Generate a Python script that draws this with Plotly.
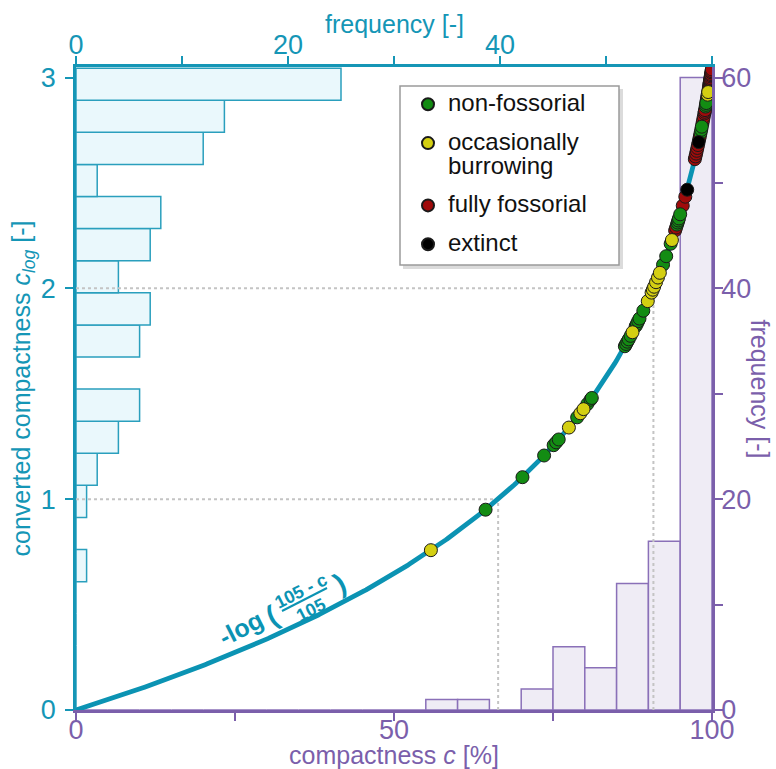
import numpy as np
import plotly.graph_objects as go

# ---------------- data ----------------
# compactness c [%] of the specimens, per ecological category
c_nonfossorial = [64.4, 70.2, 73.6, 75.1, 75.5, 75.9, 78.8, 80.4, 80.9, 81.1,
                  86.3, 86.5, 86.7, 86.9, 87.2, 88.0, 88.2, 88.4, 88.6, 89.2,
                  92.3, 92.8, 93.5, 94.5, 94.6, 94.7, 94.8, 95.0,
                  98.2, 98.3, 98.4, 99.0, 99.05, 99.1]
c_occasional = [55.8, 77.5, 79.3, 79.8, 87.5, 89.9, 90.5, 90.7, 90.9, 91.2, 91.5, 91.8,
                93.7, 99.33, 99.4]
c_fossorial = [94.2, 94.35, 95.4, 95.8, 97.3, 97.4, 97.5, 97.6, 97.7, 97.8, 98.0, 98.1,
               98.5, 98.6, 98.7, 98.8, 98.85, 98.9, 99.15, 99.2, 99.25, 99.3, 99.36,
               99.42, 99.5, 99.55, 99.6, 99.62, 99.65, 99.68, 99.7, 99.73, 99.76, 99.8,
               99.83, 99.86, 99.9, 99.93, 99.97]
c_extinct = [96.1, 97.9]

# histogram of c (bins of 5 %, 0..100)
c_bin_edges = list(range(0, 105, 5))
c_counts = [0, 0, 0, 0, 0, 0, 0, 0, 0, 0, 0, 1, 1, 0, 2, 6, 4, 12, 16, 60]

# histogram of converted compactness c_log (20 bins from 0 to ln(21))
clog_counts = [0, 0, 0, 0, 1, 0, 1, 2, 4, 6, 0, 6, 7, 4, 7, 8, 2, 12, 14, 25]

x_ticks = [0, 25, 50, 75, 100]
x_ticklabels = ["0", "", "50", "", "100"]
y_ticks = [0, 1, 2, 3]
y_ticklabels = ["0", "1", "2", "3"]
freq_ticks = [0, 10, 20, 30, 40, 50, 60]
freq_top_labels = ["0", "", "20", "", "40", "", ""]
freq_right_labels = ["0", "", "20", "", "40", "", "60"]
guide_levels = [1, 2]

# ---------------- helpers ----------------
def clog(c):
    return -np.log((105.0 - np.asarray(c, dtype=float)) / 105.0)

TEAL = "#1596b6"
CURVE = "#0b93b3"
PURPLE = "#7b5fab"
FILL_L = "#eaf8fc"
FILL_B = "#efecf5"
FONT = "Liberation Sans, Arial, sans-serif"
TICK_SIZE = 27
TITLE_SIZE = 25

W, H = 776, 769
ML, MR, MT, MB = 76, 64, 67, 59
PW, PH = W - ML - MR, H - MT - MB


def px(xp):
    return (xp - ML) / PW


def py(yp):
    return (H - MB - yp) / PH


fig = go.Figure()

# left histogram (converted compactness): x = frequency (top), y2 = c_log (left)
clog_max = float(clog(100))
clog_w = clog_max / len(clog_counts)
clog_centers = [clog_w * (i + 0.5) for i in range(len(clog_counts))]
fig.add_trace(go.Bar(x=clog_counts, y=clog_centers, width=clog_w, orientation="h",
                     xaxis="x", yaxis="y2",
                     marker=dict(color=FILL_L, line=dict(color="#2a9fbd", width=1.5)),
                     showlegend=False, hoverinfo="skip"))

# bottom histogram (compactness): x2 = c (bottom), y = frequency (right)
c_centers = [(a + b) / 2 for a, b in zip(c_bin_edges[:-1], c_bin_edges[1:])]
fig.add_trace(go.Bar(x=c_centers, y=c_counts, width=5, xaxis="x2", yaxis="y",
                     marker=dict(color=FILL_B, line=dict(color="#8a70b8", width=1.5)),
                     showlegend=False, hoverinfo="skip"))

# dotted guide lines
for lv in guide_levels:
    cg = 105 * (1 - np.exp(-lv))
    fig.add_trace(go.Scatter(x=[0, cg, cg], y=[lv, lv, 0], mode="lines", xaxis="x2", yaxis="y2",
                             line=dict(color="#c4c4c4", width=2, dash="dot"),
                             showlegend=False, hoverinfo="skip"))

# transformation curve
c_line = np.linspace(0, 100, 400)
fig.add_trace(go.Scatter(x=c_line, y=clog(c_line), mode="lines", xaxis="x2", yaxis="y2",
                         line=dict(color=CURVE, width=4.8), showlegend=False,
                         hoverinfo="skip"))

# specimens (drawing order: fossorial first; legend order via legendrank)
LEG = '<span style="font-size:24px">{}</span>'
groups = [
    # name, values, colour, legend rank
    ("fully fossorial", c_fossorial, "#a00b0b", 3),
    ("non-fossorial", c_nonfossorial, "#138c13", 1),
    ("occasionally<br>burrowing", c_occasional, "#d4cf12", 2),
    ("extinct", c_extinct, "#000000", 4),
]
for name, vals, col, rank in groups:
    label = "<br>".join(LEG.format(part) for part in name.split("<br>"))
    fig.add_trace(go.Scatter(x=vals, y=clog(vals), mode="markers", name=label,
                             xaxis="x2", yaxis="y2", legendgroup=f"g{rank}",
                             legendrank=rank,
                             marker=dict(size=13, color=col,
                                         line=dict(color="#1a1a1a", width=1))))

axis_common = dict(showgrid=False, zeroline=False, showline=True, ticks="outside",
                   ticklen=8, tickwidth=2, linewidth=2.5, automargin=False)

fig.update_layout(
    width=W, height=H,
    margin=dict(l=ML, r=MR, t=MT, b=MB, pad=0, autoexpand=False),
    paper_bgcolor="white", plot_bgcolor="white",
    font=dict(family=FONT, size=24),
    barmode="overlay",
    # frequency axis of the left histogram (top)
    xaxis=dict(**axis_common, range=[0, 60], side="top", anchor="y2",
               tickvals=freq_ticks, ticktext=freq_top_labels, ticklabelstandoff=-9,
               linecolor=TEAL, tickcolor=TEAL, tickfont=dict(color=TEAL, size=TICK_SIZE)),
    # compactness axis (bottom)
    xaxis2=dict(**axis_common, range=[0, 100], side="bottom", overlaying="x", anchor="y2",
                tickvals=x_ticks, ticktext=x_ticklabels, ticklabelstandoff=-14,
                linecolor=PURPLE, tickcolor=PURPLE, tickfont=dict(color=PURPLE, size=TICK_SIZE),
                title=dict(text="compactness <i>c</i> [%]", font=dict(color=PURPLE, size=TITLE_SIZE),
                           standoff=9)),
    # converted compactness axis (left)
    yaxis2=dict(**axis_common, range=[0, 3.05], side="left", anchor="x",
                tickvals=y_ticks, ticktext=y_ticklabels, ticklabelstandoff=4,
                linecolor=TEAL, tickcolor=TEAL, tickfont=dict(color=TEAL, size=TICK_SIZE),
                title=dict(text="converted compactness <i>c</i><sub><i>log</i></sub> [-]",
                           font=dict(color=TEAL, size=TITLE_SIZE), standoff=4)),
    # frequency axis of the bottom histogram (right)
    yaxis=dict(**axis_common, range=[0, 61], side="right", overlaying="y2", anchor="x",
               tickvals=freq_ticks, ticktext=freq_right_labels, ticklabelstandoff=-7,
               linecolor=PURPLE, tickcolor=PURPLE, tickfont=dict(color=PURPLE, size=TICK_SIZE)),
    legend=dict(x=px(408), y=py(86), xanchor="left", yanchor="top",
                bgcolor="rgba(0,0,0,0)", borderwidth=0, valign="top",
                font=dict(family=FONT, size=18, color="#111111"),
                tracegroupgap=12.5, itemsizing="constant"),
    showlegend=True,
)

# legend frame with soft shadow
fig.add_shape(type="rect", xref="paper", yref="paper",
              x0=px(403), x1=px(623), y0=py(269), y1=py(89),
              fillcolor="#d2d2d2", line=dict(width=0), layer="above", opacity=0.8)
fig.add_shape(type="rect", xref="paper", yref="paper",
              x0=px(400), x1=px(619), y0=py(265), y1=py(86),
              fillcolor="white", line=dict(color="#9a9a9a", width=1.5), layer="above")

# top axis title
fig.add_annotation(text="frequency [-]", xref="paper", yref="paper", x=0.5, y=py(24),
                   showarrow=False, font=dict(color=TEAL, size=TITLE_SIZE),
                   xanchor="center", yanchor="middle")

# right axis title (reads top-to-bottom)
fig.add_annotation(text="frequency [-]", xref="paper", yref="paper", x=px(760), y=0.5,
                   textangle=90, showarrow=False, font=dict(color=PURPLE, size=TITLE_SIZE),
                   xanchor="center", yanchor="middle")

# curve label: -log ( (105-c) / 105 )
ang = -27
lab_font = dict(family=FONT, color=CURVE)
label_parts = [
    ("<b>-log</b>", 241, 628, 25),
    ("<b>(</b>", 272, 615, 28),
    ("<b>105 - c</b>", 301, 591, 18),
    ("<b>105</b>", 311, 610, 18),
    ("<b>)</b>", 339, 583, 28),
]
for txt, xp, yp, fs in label_parts:
    fig.add_annotation(text=txt, x=px(xp), y=py(yp), xref="paper", yref="paper",
                       xanchor="center", yanchor="middle",
                       showarrow=False, textangle=ang, font=dict(**lab_font, size=fs))
fig.add_shape(type="line", xref="paper", yref="paper", x0=px(282), y0=py(611),
              x1=px(327), y1=py(588), line=dict(color=CURVE, width=2))

fig.write_html("out.html", config={"displayModeBar": False},
               post_script="document.body.style.margin='0px';")
